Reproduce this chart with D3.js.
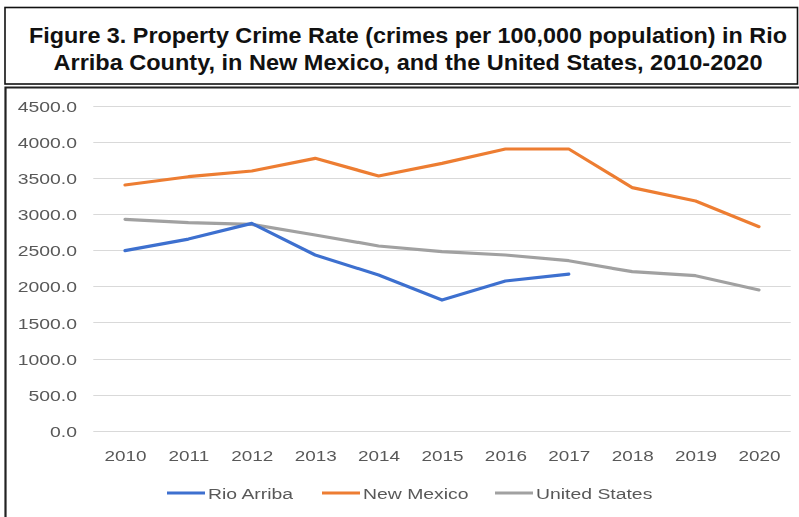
<!DOCTYPE html>
<html>
<head>
<meta charset="utf-8">
<script src="https://cdn.jsdelivr.net/npm/d3@7"></script>
<style>
  html, body { margin: 0; padding: 0; background: #fff; }
  svg { display: block; }
</style>
</head>
<body>
<svg id="chart" width="799" height="517"></svg>
<script>
// Property crime rate per 100,000 population, 2010-2020
const years = ["2010","2011","2012","2013","2014","2015","2016","2017","2018","2019","2020"];
const rioArriba = [2495, 2656, 2874, 2435, 2158, 1811, 2075, 2171];
const newMexico = [3405, 3520, 3599, 3775, 3530, 3705, 3904, 3904, 3368, 3183, 2827];
const unitedStates = [2930, 2883, 2860, 2712, 2560, 2481, 2435, 2356, 2204, 2148, 1950];
const yTicks = [0, 500, 1000, 1500, 2000, 2500, 3000, 3500, 4000, 4500];
const seriesNames = ["Rio Arriba", "New Mexico", "United States"];
const seriesColors = ["#3d6fcf", "#ed7d31", "#a1a1a1"];
const titleLines = [
  "Figure 3. Property Crime Rate (crimes per 100,000 population) in Rio",
  "Arriba County, in New Mexico, and the United States, 2010-2020"
];

const svg = d3.select("#chart");
const W = 799, H = 517;

// horizontal stretch applied to chart text
const STRETCH = 1.25;
function stretch(sel, factor) {
  sel.each(function () {
    const w = this.getComputedTextLength();
    d3.select(this).attr("textLength", w * factor).attr("lengthAdjust", "spacingAndGlyphs");
  });
}

// ---- title box ----
svg.append("rect")
  .attr("x", 5).attr("y", 7.5).attr("width", 792.5).attr("height", 76.5)
  .attr("fill", "#fff").attr("stroke", "#111").attr("stroke-width", 1.6);

const titleTargets = [758, 709];
const titleBaselines = [43, 69.5];
titleLines.forEach((t, i) => {
  svg.append("text")
    .attr("x", 408).attr("y", titleBaselines[i])
    .attr("text-anchor", "middle")
    .attr("font-family", "'Liberation Sans', Arial, sans-serif")
    .attr("font-weight", "bold")
    .attr("font-size", 21.5)
    .attr("fill", "#111")
    .attr("textLength", titleTargets[i])
    .attr("lengthAdjust", "spacingAndGlyphs")
    .text(t);
});

// ---- chart box ----
svg.append("path")
  .attr("d", `M5.5,${H} V87.5 H${W}`)
  .attr("fill", "none").attr("stroke", "#222").attr("stroke-width", 2.2);

const plot = svg.append("g").attr("filter", "url(#soft)");
const defs = svg.append("defs");
defs.append("filter").attr("id", "soft")
  .append("feGaussianBlur").attr("stdDeviation", 0.45);

const x = d3.scalePoint().domain(years).range([93.3, 790.7]).padding(0.5);
const y = d3.scaleLinear().domain([0, 4500]).range([430.7, 106]);

// y tick labels
const yAxis = d3.axisLeft(y).tickValues(yTicks).tickSize(0).tickFormat(d => d3.format(".1f")(d));
const yg = plot.append("g").attr("transform", "translate(77,0)").call(yAxis);
yg.select(".domain").remove();
yg.selectAll("text")
  .attr("x", 0).attr("dy", "0.36em")
  .attr("font-family", "'Liberation Sans', Arial, sans-serif")
  .attr("font-size", 15.5).attr("fill", "#595959");
yg.selectAll("text").call(stretch, STRETCH);

// gridlines
plot.append("g").selectAll("line").data(yTicks).join("line")
  .attr("x1", 93.3).attr("x2", 790.7)
  .attr("y1", d => Math.round(y(d)) + 0.5).attr("y2", d => Math.round(y(d)) + 0.5)
  .attr("stroke", "#d9d9d9").attr("stroke-width", 1.2);

// x tick labels
const xAxis = d3.axisBottom(x).tickSize(0).tickPadding(0);
const xg = plot.append("g").attr("transform", "translate(0,430.7)").call(xAxis);
xg.select(".domain").remove();
xg.selectAll("text")
  .attr("y", 30.5).attr("dy", 0)
  .attr("font-family", "'Liberation Sans', Arial, sans-serif")
  .attr("font-size", 15.5).attr("fill", "#595959");
xg.selectAll("text").call(stretch, 1.22);

// series lines
const line = d3.line().x((d, i) => x(years[i])).y(d => y(d));
const seriesData = [rioArriba, newMexico, unitedStates];
// gray drawn first so orange and blue sit on top
[2, 1, 0].forEach(k => {
  plot.append("path")
    .datum(seriesData[k])
    .attr("d", line)
    .attr("fill", "none")
    .attr("stroke", seriesColors[k])
    .attr("stroke-width", 3.2)
    .attr("stroke-linejoin", "round")
    .attr("stroke-linecap", "round");
});

// legend
const legendX = [167, 322, 495];
const lg = plot.append("g");
seriesNames.forEach((name, k) => {
  lg.append("line")
    .attr("x1", legendX[k]).attr("x2", legendX[k] + 38)
    .attr("y1", 493).attr("y2", 493)
    .attr("stroke", seriesColors[k]).attr("stroke-width", 3.2);
  lg.append("text")
    .attr("x", legendX[k] + 41).attr("y", 499)
    .attr("font-family", "'Liberation Sans', Arial, sans-serif")
    .attr("font-size", 15.5).attr("fill", "#595959")
    .text(name)
    .call(stretch, STRETCH);
});
</script>
</body>
</html>
